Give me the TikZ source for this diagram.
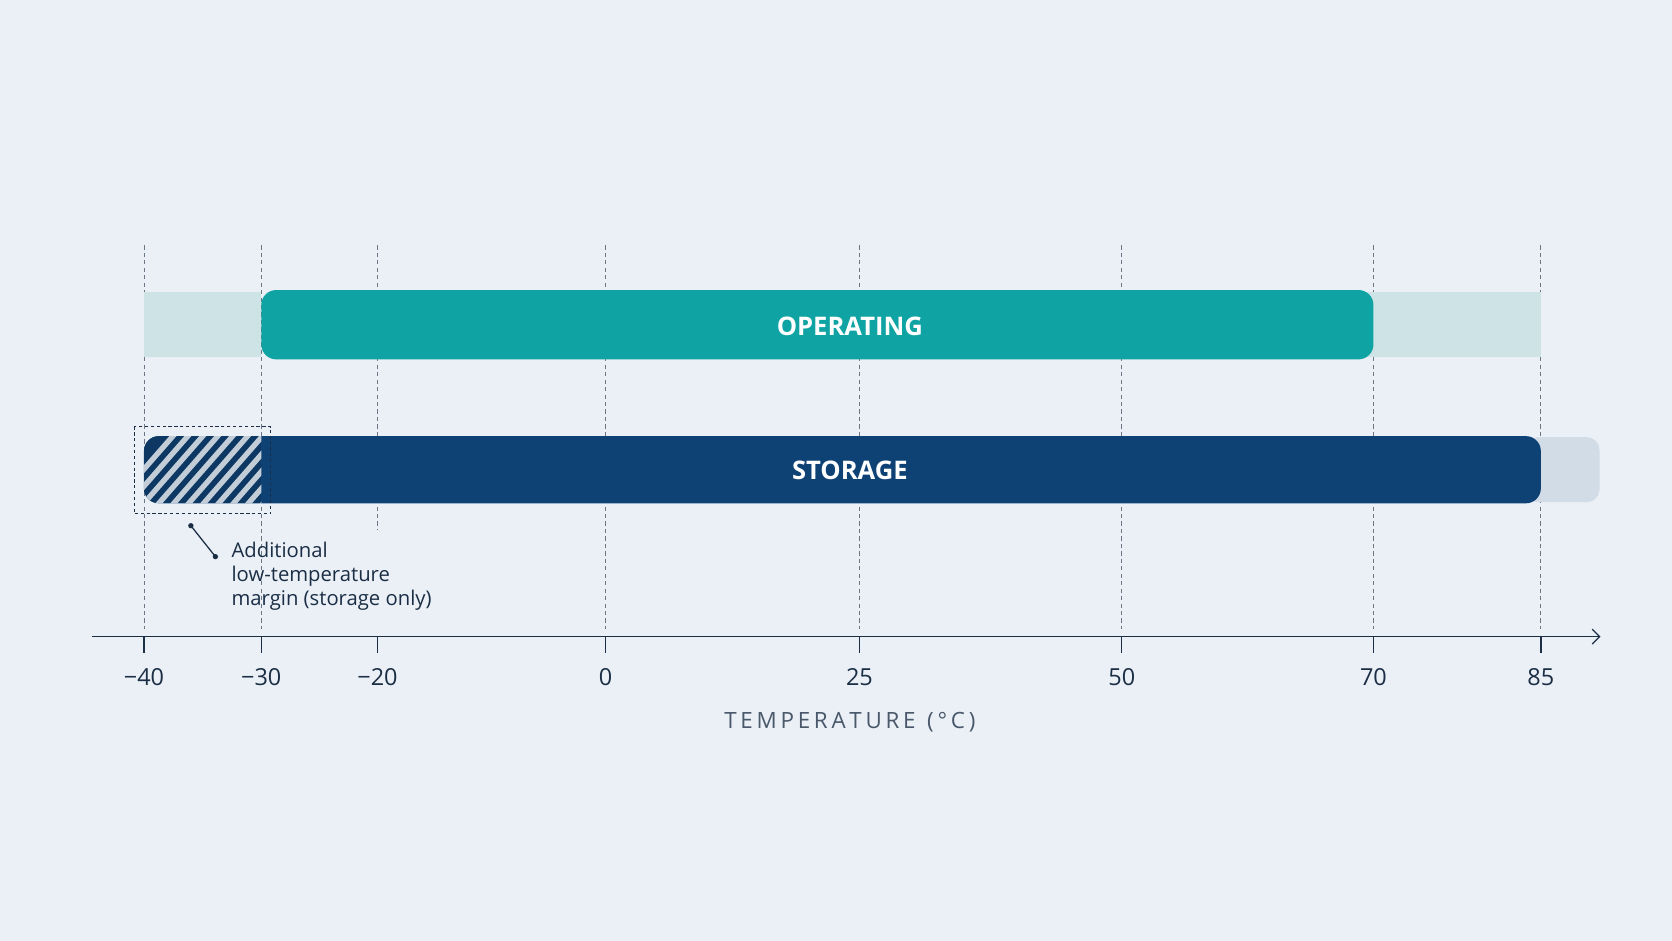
\documentclass[tikz,border=0pt]{standalone}
\usepackage{fontspec}
\setmainfont{Open Sans}
\usetikzlibrary{arrows.meta}
\definecolor{bg}{HTML}{EAF0F6}
\definecolor{teal}{HTML}{0FA3A3}
\definecolor{lteal}{HTML}{CDE3E6}
\definecolor{navy}{HTML}{0E4275}
\definecolor{lnavy}{HTML}{D2DCE6}
\definecolor{ink}{HTML}{1B2E45}
\definecolor{grid}{HTML}{6B7785}
\begin{document}
\begin{tikzpicture}[x=1pt,y=-1pt,
  gridline/.style={grid,dashed,line width=0.7pt,dash pattern=on 4pt off 3pt},
  ticklab/.style={font=\fontsize{22}{24}\selectfont,text=ink},
  barlab/.style={font=\fontsize{24}{26}\selectfont\bfseries,text=white}]
\fill[bg] (0,0) rectangle (1568,882);
\useasboundingbox (0,0) rectangle (1568,882);
% grid
\foreach \x in {135,245,568,806,1052,1288,1445}
  \draw[gridline] (\x,230) -- (\x,590);
\draw[gridline] (354,230) -- (354,497);
% operating
\fill[lteal] (135,274) rectangle (245,335);
\fill[lteal] (1280,274) rectangle (1445,335);
\fill[teal,rounded corners=14pt] (245,272) rectangle (1288,337);
\node[barlab] (op) at (797,306) {OPERATING};
% storage
\fill[lnavy,rounded corners=12pt] (1430,410) rectangle (1500,471);
\fill[navy,rounded corners=14pt] (135,409) rectangle (1445,472);
\begin{scope}
\clip[rounded corners=14pt] (135,409) rectangle (300,472);
\clip (135,409) rectangle (245,472);
\fill[navy!85!black] (135,409) rectangle (245,472);
\foreach \i in {0,...,14}
  \draw[white,opacity=0.75,line width=5pt] (100+\i*14,480) -- (170+\i*14,400);
\end{scope}
\node[barlab] (st) at (797,441) {STORAGE};
\draw[ink,dashed,line width=0.9pt,dash pattern=on 3pt off 2.5pt] (126,400) rectangle (254,482);
\coordinate (a) at (179,493);
\coordinate (b) at (202,522);
\draw[ink,line width=1.2pt] (a) -- (b);
\fill[ink] (a) circle (2.5pt) (b) circle (2.5pt);
\node[anchor=north west,align=left,text=ink,font=\fontsize{19}{22.5}\selectfont,inner sep=0pt] (note) at (217,508) {Additional\\low-temperature\\margin (storage only)};
% axis
\coordinate (ax0) at (86,597);
\coordinate (ax1) at (1501,597);
\draw[ink,line width=1.2pt,-{Straight Barb[length=7pt,width=14pt]}] (ax0) -- (ax1);
\foreach \x/\l in {135/{−40},245/{−30},354/{−20},568/0,806/25,1052/50,1288/70,1445/85}{
  \draw[ink,line width=1.2pt] (\x,597) -- (\x,612);
  \node[ticklab] at (\x,635) {\l};}
\node[text=ink!80,font=\fontsize{21}{24}\selectfont] (t) at (797,677) {T\,E\,M\,P\,E\,R\,A\,T\,U\,R\,E\ \ (\,°\,C\,)};
\end{tikzpicture}
\end{document}
